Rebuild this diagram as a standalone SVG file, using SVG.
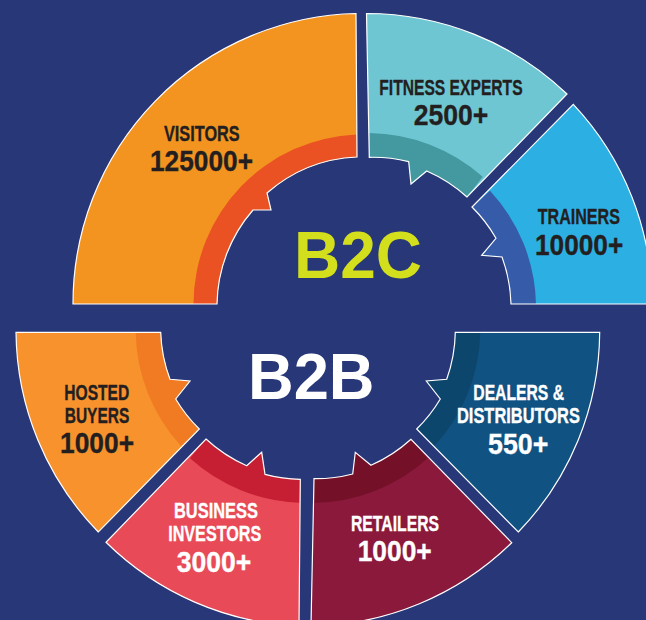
<svg xmlns="http://www.w3.org/2000/svg" width="646" height="620" viewBox="0 0 646 620">
<style>
.o{fill:none;stroke:#fff;stroke-width:1.2}
text{font-family:"Liberation Sans",Arial,sans-serif;font-weight:700}
.l{font-size:22.5px;stroke-width:.35}
.n{font-size:29.5px;stroke-width:.35}
.d{fill:#231f20;stroke:#231f20}
.w{fill:#fff;stroke:#fff}
</style>
<rect width="646" height="620" fill="#273777"/>
<g id="visitors">
<path d="M73 304A290 290 0 0 1 356 13.500L357 157A147 147 0 0 0 267 193L271 210H253A147 147 0 0 0 217 304Z" fill="#f49420"/>
<path d="M193.500 304A170 170 0 0 1 356.500 134.500L357 157A147 147 0 0 0 267 193L271 210H253A147 147 0 0 0 217 304Z" fill="#ea5123"/>
<path class="o" d="M73 304A290 290 0 0 1 356 13.500L357 157A147 147 0 0 0 267 193L271 210H253A147 147 0 0 0 217 304Z"/>
<text class="l d" transform="translate(164 140.700) scale(.7236 1)">VISITORS</text>
<text class="n d" transform="translate(150 171.300) scale(.891 1)">125000+</text>
</g>
<g id="fitness-experts">
<path d="M366.500 13.500A290 290 0 0 1 567 94L467 197A147 147 0 0 0 426.700 171L411 184L408.700 161.700A147 147 0 0 0 369.300 157.300Z" fill="#6fc6d3"/>
<path d="M369.500 133A175 175 0 0 1 482.700 176.700L467 197A147 147 0 0 0 426.700 171L411 184L408.700 161.700A147 147 0 0 0 369.300 157.300Z" fill="#43999f"/>
<path class="o" d="M366.500 13.500A290 290 0 0 1 567 94L467 197A147 147 0 0 0 426.700 171L411 184L408.700 161.700A147 147 0 0 0 369.300 157.300Z"/>
<text class="l d" transform="translate(379.300 95) scale(.695 1)">FITNESS EXPERTS</text>
<text class="n d" transform="translate(413.700 125.300) scale(.9 1)">2500+</text>
</g>
<g id="trainers">
<path d="M573.300 104.300A290 290 0 0 1 652 304H511A147 147 0 0 0 502 257L481.700 255.300L496 238.300A147 147 0 0 0 472 207Z" fill="#2cb0e3"/>
<path d="M490 190.700A172 172 0 0 1 536 304H511A147 147 0 0 0 502 257L481.700 255.300L496 238.300A147 147 0 0 0 472 207Z" fill="#365ca9"/>
<path class="o" d="M573.300 104.300A290 290 0 0 1 652 304H511A147 147 0 0 0 502 257L481.700 255.300L496 238.300A147 147 0 0 0 472 207Z"/>
<text class="l d" transform="translate(537.700 224) scale(.7156 1)">TRAINERS</text>
<text class="n d" transform="translate(535 255) scale(.89 1)">10000+</text>
</g>
<g id="hosted-buyers">
<path d="M16 332.300H160.700A147 147 0 0 0 170 379.300L190 381L175.700 399A147 147 0 0 0 199.300 429L98.300 532A290 290 0 0 1 16 332.300Z" fill="#f7922d"/>
<path d="M135.700 332.300H160.700A147 147 0 0 0 170 379.300L190 381L175.700 399A147 147 0 0 0 199.300 429L181 446A172 172 0 0 1 135.700 332.300Z" fill="#f07b22"/>
<path class="o" d="M16 332.300H160.700A147 147 0 0 0 170 379.300L190 381L175.700 399A147 147 0 0 0 199.300 429L98.300 532A290 290 0 0 1 16 332.300Z"/>
<text class="l d" transform="translate(64.300 400) scale(.693 1)">HOSTED</text>
<text class="l d" transform="translate(64.700 423) scale(.689 1)">BUYERS</text>
<text class="n d" transform="translate(60 453.300) scale(.894 1)">1000+</text>
</g>
<g id="business-investors">
<path d="M206 439A147 147 0 0 0 246.700 465.700L261.700 452.300L265 474.300A147 147 0 0 0 300.300 479.300L299 626A292 292 0 0 1 106 542.300Z" fill="#e84a57"/>
<path d="M206 439A147 147 0 0 0 246.700 465.700L261.700 452.300L265 474.300A147 147 0 0 0 300.300 479.300L299.700 502.700A172 172 0 0 1 190 458.300Z" fill="#c61f33"/>
<path class="o" d="M206 439A147 147 0 0 0 246.700 465.700L261.700 452.300L265 474.300A147 147 0 0 0 300.300 479.300L299 626A292 292 0 0 1 106 542.300Z"/>
<text class="l w" transform="translate(174 517.700) scale(.73 1)">BUSINESS</text>
<text class="l w" transform="translate(168.200 541) scale(.718 1)">INVESTORS</text>
<text class="n w" transform="translate(176.700 571.700) scale(.9 1)">3000+</text>
</g>
<g id="retailers">
<path d="M314 478.700A147 147 0 0 0 352.700 474L355.300 452.300L371 465.300A147 147 0 0 0 411 439.300L511.700 542.700A292 292 0 0 1 311 626Z" fill="#8a193c"/>
<path d="M314 478.700A147 147 0 0 0 352.700 474L355.300 452.300L371 465.300A147 147 0 0 0 411 439.300L427.700 458.300A172 172 0 0 1 314 502.700Z" fill="#751029"/>
<path class="o" d="M314 478.700A147 147 0 0 0 352.700 474L355.300 452.300L371 465.300A147 147 0 0 0 411 439.300L511.700 542.700A292 292 0 0 1 311 626Z"/>
<text class="l w" transform="translate(351 530.700) scale(.7 1)">RETAILERS</text>
<text class="n w" transform="translate(357.700 561) scale(.894 1)">1000+</text>
</g>
<g id="dealers-distributors">
<path d="M455.300 332.300H599.700A290 290 0 0 1 518.300 532L416.700 429A147 147 0 0 0 440.300 399L426.300 381L446.700 379.300A147 147 0 0 0 455.300 332.300Z" fill="#105282"/>
<path d="M455.300 332.300H480.300A172 172 0 0 1 434.300 446L416.700 429A147 147 0 0 0 440.300 399L426.300 381L446.700 379.300A147 147 0 0 0 455.300 332.300Z" fill="#0c466d"/>
<path class="o" d="M455.300 332.300H599.700A290 290 0 0 1 518.300 532L416.700 429A147 147 0 0 0 440.300 399L426.300 381L446.700 379.300A147 147 0 0 0 455.300 332.300Z"/>
<text class="l w" transform="translate(473.300 400) scale(.698 1)">DEALERS &amp;</text>
<text class="l w" transform="translate(457 423) scale(.73 1)">DISTRIBUTORS</text>
<text class="n w" transform="translate(488 454) scale(.908 1)">550+</text>
</g>
<text id="b2c" transform="translate(294 278.300) scale(.97 1)" font-size="66" fill="#d3df1d">B2C</text>
<text id="b2b" transform="translate(248 399.300) scale(.973 1)" font-size="65" fill="#fff">B2B</text>
</svg>
